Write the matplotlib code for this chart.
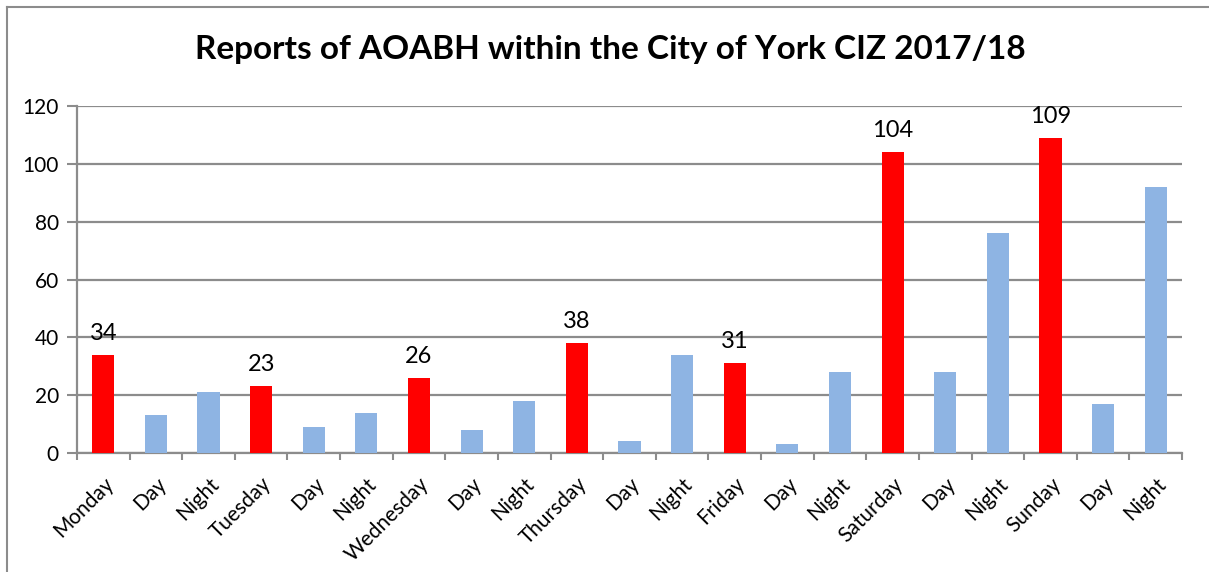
import numpy as np
import matplotlib
matplotlib.use("Agg")
import matplotlib.pyplot as plt
from matplotlib.lines import Line2D

plt.rcParams['font.family'] = ['Lato', 'DejaVu Sans']

labels = ["Monday", "Day", "Night", "Tuesday", "Day", "Night",
          "Wednesday", "Day", "Night", "Thursday", "Day", "Night",
          "Friday", "Day", "Night", "Saturday", "Day", "Night",
          "Sunday", "Day", "Night"]
values = [34, 13, 21, 23, 9, 14, 26, 8, 18, 38, 4, 34,
          31, 3, 28, 104, 28, 76, 109, 17, 92]
is_day_total = [lab not in ("Day", "Night") for lab in labels]

red = "#FF0000"
blue = "#8EB4E3"
grid_col = "#8C8C8C"

fig = plt.figure(figsize=(12.09, 5.72), dpi=100)
ax = fig.add_axes([77 / 1209, 1 - 453 / 572, (1182 - 77) / 1209, (453 - 106) / 572])

x = np.arange(len(values))
colors = [red if t else blue for t in is_day_total]
bars = ax.bar(x, values, width=0.42, color=colors, zorder=3)

for xi, v, t in zip(x, values, is_day_total):
    if t:
        ax.annotate(str(v), (xi, v), xytext=(0, 8), textcoords="offset points",
                    ha="center", va="bottom", fontsize=17, color="black")

ax.set_xlim(-0.5, len(values) - 0.5)
ax.set_ylim(0, 120)
ax.set_yticks(np.arange(0, 121, 20))
ax.yaxis.grid(True, color=grid_col, linewidth=1.6, zorder=0)
ax.set_axisbelow(True)

ax.set_xticks(x)
ax.set_xticklabels(labels, rotation=45, ha="right", va="top",
                   rotation_mode="anchor", fontsize=15)
ax.tick_params(axis="x", which="major", length=0, pad=15)
ax.set_xticks(np.arange(-0.5, len(values), 1), minor=True)
ax.tick_params(axis="x", which="minor", length=5, width=1.5, color=grid_col)
ax.tick_params(axis="y", length=7, width=1.5, color=grid_col, labelsize=15, pad=6)

for s in ["top", "right"]:
    ax.spines[s].set_visible(False)
for s in ["left", "bottom"]:
    ax.spines[s].set_color(grid_col)
    ax.spines[s].set_linewidth(1.6)

fig.text(0.505, 1 - 50 / 572, "Reports of AOABH within the City of York CIZ 2017/18",
         ha="center", va="center", fontsize=24, fontweight="bold")

# outer frame (left and top edges)
fig.add_artist(Line2D([7 / 1209, 7 / 1209], [0, 1 - 7 / 572],
                      transform=fig.transFigure, color=grid_col, linewidth=1.5))
fig.add_artist(Line2D([7 / 1209, 1], [1 - 7 / 572, 1 - 7 / 572],
                      transform=fig.transFigure, color=grid_col, linewidth=1.5))

fig.savefig("out.png", dpi=100)
